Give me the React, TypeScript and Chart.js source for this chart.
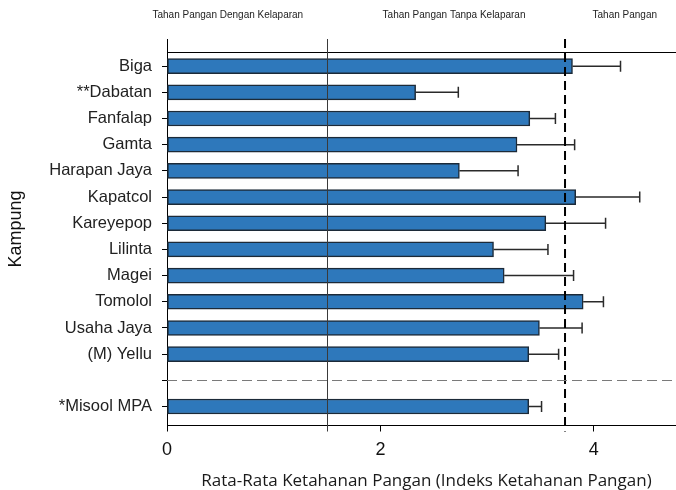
import React, { useEffect, useRef } from "react";
import { Chart, registerables } from "chart.js";

Chart.register(...registerables);

const categories = [
  "Biga",
  "**Dabatan",
  "Fanfalap",
  "Gamta",
  "Harapan Jaya",
  "Kapatcol",
  "Kareyepop",
  "Lilinta",
  "Magei",
  "Tomolol",
  "Usaha Jaya",
  "(M) Yellu",
  "",
  "*Misool MPA",
];
const means = [3.8, 2.33, 3.4, 3.28, 2.74, 3.83, 3.55, 3.06, 3.16, 3.9, 3.49, 3.39, null, 3.39];
const errors = [0.45, 0.4, 0.24, 0.54, 0.55, 0.6, 0.56, 0.51, 0.65, 0.19, 0.4, 0.28, null, 0.12];
const xTicks = [0, 2, 4];
const thresholds = [1.5, 3.73];
const bandLabels = ["Tahan Pangan Dengan Kelaparan", "Tahan Pangan Tanpa Kelaparan", "Tahan Pangan"];
const bandLabelCenters = [0.57, 2.69, 4.29];
const separatorIndex = 12;
const xTitle = "Rata-Rata Ketahanan Pangan (Indeks Ketahanan Pangan)";
const yTitle = "Kampung";

const FONT = "'Liberation Sans', Arial, sans-serif";

const overlayPlugin = {
  id: "overlay",
  afterDatasetsDraw(chart: any) {
    const ctx = chart.ctx;
    const { left, right, top, bottom } = chart.chartArea;
    const xs = chart.scales.x;
    const ys = chart.scales.y;
    const meta = chart.getDatasetMeta(0);
    ctx.save();

    // error bars
    ctx.strokeStyle = "#2a2a2a";
    ctx.lineWidth = 1.5;
    meta.data.forEach((el: any, i: number) => {
      const raw = chart.data.datasets[0].data[i];
      if (!raw) return;
      const err = errors[categories.indexOf(raw.label)];
      if (err == null) return;
      const x0 = el.x;
      const x1 = xs.getPixelForValue(raw.x + err);
      const y = el.y;
      ctx.beginPath();
      ctx.moveTo(x0, y);
      ctx.lineTo(x1, y);
      ctx.moveTo(x1, y - 5.5);
      ctx.lineTo(x1, y + 5.5);
      ctx.stroke();
    });

    const extTop = top - 13;

    // left axis extension
    ctx.strokeStyle = "#000";
    ctx.lineWidth = 1;
    ctx.setLineDash([]);
    ctx.beginPath();
    ctx.moveTo(left + 0.5, extTop);
    ctx.lineTo(left + 0.5, top);
    ctx.stroke();

    // top line
    ctx.beginPath();
    ctx.moveTo(left, Math.round(top) + 0.5);
    ctx.lineTo(right, Math.round(top) + 0.5);
    ctx.stroke();

    // threshold lines
    const p1 = Math.round(xs.getPixelForValue(thresholds[0])) + 0.5;
    ctx.strokeStyle = "#3a3a3a";
    ctx.lineWidth = 1;
    ctx.beginPath();
    ctx.moveTo(p1, extTop);
    ctx.lineTo(p1, bottom + 6);
    ctx.stroke();

    const p2 = xs.getPixelForValue(thresholds[1]);
    ctx.strokeStyle = "#000";
    ctx.lineWidth = 2;
    ctx.setLineDash([9, 5]);
    ctx.beginPath();
    ctx.moveTo(p2, extTop);
    ctx.lineTo(p2, bottom + 6);
    ctx.stroke();

    // separator dashed line
    const ySep = Math.round(ys.getPixelForValue(separatorIndex)) + 0.5;
    ctx.strokeStyle = "#7a7a7a";
    ctx.lineWidth = 1;
    ctx.setLineDash([10, 5]);
    ctx.beginPath();
    ctx.moveTo(left, ySep);
    ctx.lineTo(right, ySep);
    ctx.stroke();
    ctx.setLineDash([]);

    // band labels
    ctx.fillStyle = "#222";
    ctx.font = `10px ${FONT}`;
    ctx.textAlign = "center";
    ctx.textBaseline = "middle";
    bandLabels.forEach((t, i) => {
      ctx.fillText(t, xs.getPixelForValue(bandLabelCenters[i]), 15.5);
    });

    // x title
    ctx.fillStyle = "#1a1a1a";
    ctx.font = `17px 'Open Sans', sans-serif`;
    ctx.textAlign = "center";
    ctx.textBaseline = "alphabetic";
    ctx.fillText(xTitle, (left + right) / 2 + 5, 485.5);

    // y title
    ctx.save();
    ctx.translate(16, 229);
    ctx.rotate(-Math.PI / 2);
    ctx.font = `18px ${FONT}`;
    ctx.textBaseline = "middle";
    ctx.fillStyle = "#111";
    ctx.fillText(yTitle, 0, 0);
    ctx.restore();

    ctx.restore();
  },
};

export default function App() {
  const ref = useRef<HTMLCanvasElement | null>(null);

  useEffect(() => {
    if (!ref.current) return;
    const points = categories
      .map((label, i) => ({ label, x: means[i], y: i }))
      .filter((p) => p.x != null);

    const chart = new Chart(ref.current, {
      type: "bar",
      data: {
        datasets: [
          {
            data: points as any,
            backgroundColor: "#2e78bb",
            borderColor: "#1c2a38",
            borderWidth: 1.5,
            borderSkipped: false,
            barThickness: 15,
          },
        ],
      },
      options: {
        indexAxis: "y",
        animation: false,
        responsive: false,
        devicePixelRatio: 1,
        layout: { padding: { top: 52, left: 0, right: 0, bottom: 0 } },
        plugins: {
          legend: { display: false },
          tooltip: { enabled: false },
        },
        scales: {
          x: {
            type: "linear",
            min: 0,
            max: 4.77,
            bounds: "data",
            afterBuildTicks: (s: any) => {
              s.ticks = xTicks.map((v) => ({ value: v }));
            },
            afterFit: (s: any) => {
              s.height = 64.5;
            },
            grid: {
              drawOnChartArea: false,
              drawTicks: true,
              tickLength: 6,
              color: "#000",
            },
            border: { display: true, color: "#000", width: 1 },
            ticks: {
              color: "#111",
              font: { family: FONT, size: 18 },
              padding: 8,
            },
          },
          y: {
            type: "linear",
            reverse: true,
            offset: false,
            bounds: "data",
            min: -0.54,
            max: 13.725,
            afterBuildTicks: (s: any) => {
              s.ticks = categories.map((_, i) => ({ value: i }));
            },
            afterFit: (s: any) => {
              s.width = 167;
            },
            grid: {
              offset: false,
              drawOnChartArea: false,
              drawTicks: true,
              tickLength: 5,
              color: "#000",
            },
            border: { display: true, color: "#000", width: 1 },
            ticks: {
              color: "#222",
              font: { family: FONT, size: 16.5 },
              padding: 10,
              autoSkip: false,
              callback: (v: any) => categories[v] ?? "",
            },
          },
        },
      },
      plugins: [overlayPlugin],
    });
    return () => chart.destroy();
  }, []);

  return (
    <div style={{ position: "fixed", left: 0, top: 0, width: 676, height: 490, background: "#fff" }}>
      <canvas ref={ref} width={676} height={490} style={{ display: "block" }} />
    </div>
  );
}
